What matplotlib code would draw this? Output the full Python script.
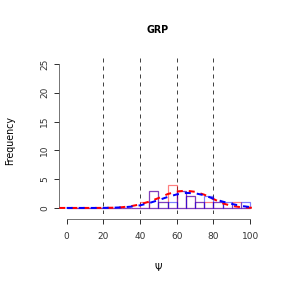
import numpy as np
import matplotlib.pyplot as plt

# histogram bins (width 5) and counts
bin_edges = list(range(0, 105, 5))
red_counts = [0, 0, 0, 0, 0, 0, 0, 0, 1, 3, 1, 4, 3, 2, 1, 1, 1, 0, 1, 0]
blue_counts = [0, 0, 0, 0, 0, 0, 0, 0, 0, 3, 1, 1, 3, 2, 1, 2, 1, 1, 0, 1]

# dashed fitted curves, sampled every 5 units
red_x = [-4, 0, 5, 10, 15, 20, 25, 30, 35, 40, 45, 50, 55, 60, 65, 70, 75, 80, 85, 90, 95, 100, 104]
red_y = [0, 0, 0, 0, 0, 0.01, 0.04, 0.12, 0.3, 0.62, 1.1, 1.7, 2.4, 2.85, 3.0, 2.8, 2.3, 1.55, 0.8, 0.35, 0.12, 0.04, 0.01]
blue_x = [0, 5, 10, 15, 20, 25, 30, 35, 40, 45, 50, 55, 60, 65, 70, 75, 80, 85, 90, 95, 100]
blue_y = [0, 0, 0, 0, 0.01, 0.04, 0.1, 0.22, 0.45, 0.85, 1.35, 1.9, 2.35, 2.6, 2.55, 2.2, 1.6, 1.1, 0.7, 0.35, 0.15]

x_ticks = [0, 20, 40, 60, 80, 100]
y_ticks = [0, 5, 10, 15, 20, 25]
grid_x = [20, 40, 60, 80]

fig = plt.figure(figsize=(4, 4), dpi=72)
ax = fig.add_axes([0.206, 0.258, 0.688, 0.54])

for gx in grid_x:
    ax.axvline(gx, color='#444444', lw=1, linestyle=(0, (4, 4)), zorder=1)

left = bin_edges[:-1]
ax.bar(left, red_counts, width=5, align='edge', fill=False,
       edgecolor=(1, 0, 0, 0.5), lw=1.2, zorder=2)
ax.bar(left, blue_counts, width=5, align='edge', fill=False,
       edgecolor=(0, 0, 1, 0.5), lw=1.2, zorder=2)

ax.plot(red_x, red_y, color='red', lw=2, linestyle=(0, (3, 3)), zorder=3)
ax.plot(blue_x, blue_y, color='blue', lw=2, linestyle=(0, (3, 3)), zorder=3)

ax.set_xlim(-4, 104)
ax.set_ylim(-1, 26)
ax.set_xticks(x_ticks)
ax.set_yticks(y_ticks)
ax.set_yticklabels([str(v) for v in y_ticks], rotation=90, va='center')
ax.tick_params(labelsize=9, colors='#333333', length=5, width=1)
ax.tick_params(axis='x', pad=8)
ax.tick_params(axis='y', pad=5)

for s in ['top', 'right']:
    ax.spines[s].set_visible(False)
ax.spines['left'].set_bounds(0, 25)
ax.spines['bottom'].set_bounds(0, 100)
ax.spines['bottom'].set_position(('outward', 5))
for s in ['left', 'bottom']:
    ax.spines[s].set_color('#555555')

fig.text(158 / 288, 1 - 30 / 288, 'GRP', fontsize=9.5, fontweight='bold',
         ha='center', va='center')
fig.text(158 / 288, 1 - 268 / 288, 'Ψ', fontsize=9.5, ha='center', va='center')
fig.text(10 / 288, 1 - 141 / 288, 'Frequency', fontsize=9.5, rotation=90,
         ha='center', va='center')

fig.savefig('out.png', dpi=72)
